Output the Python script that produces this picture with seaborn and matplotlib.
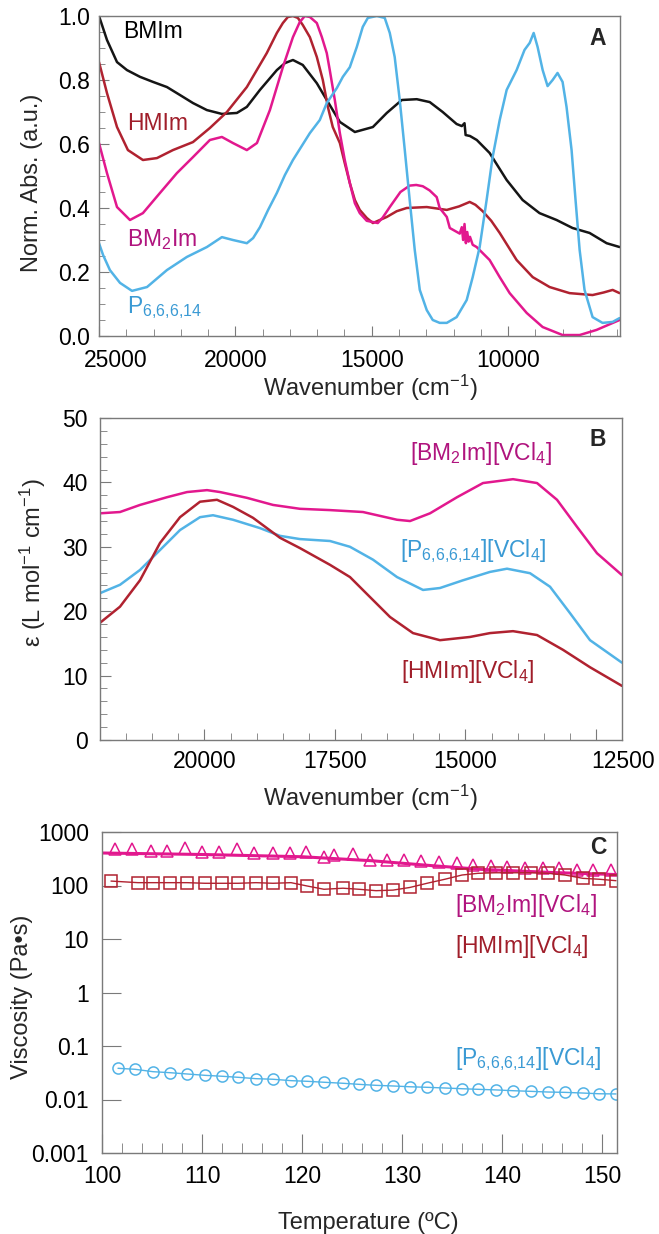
import numpy as np
import pandas as pd
import seaborn as sns
import matplotlib.pyplot as plt
from matplotlib.ticker import MultipleLocator, FixedLocator, FixedFormatter, NullLocator
from matplotlib.transforms import ScaledTranslation

sns.set_style("ticks")
plt.rcParams['font.family'] = ['Liberation Sans', 'DejaVu Sans']
plt.rcParams['mathtext.default'] = 'regular'

BLACK = '#151515'
RED = '#B02230'
PINK = '#E2188E'
BLUE = '#52B3E6'
RED_T = '#A01E2A'
PINK_T = '#B0147E'
BLUE_T = '#3A9AD4'
GRAY = '#7a7a7a'

# ---- panel A: normalised absorbance ----
bmim_wn = [25000, 24707, 24340, 23975, 23500, 23020, 22510, 22030, 21555, 21045,
           20495, 19945, 19580, 19100, 18480, 18180, 17890, 17530, 17015, 16650,
           16170, 15620, 14960, 14450, 13900, 13350, 12875, 12400, 11890, 11700,
           11600, 11560, 11400, 11150, 10680, 10055, 9470, 8850, 8225, 7640,
           7015, 6390, 5915]
bmim_abs = [1.0, 0.925, 0.856, 0.831, 0.81, 0.794, 0.778, 0.753, 0.728, 0.706,
            0.694, 0.697, 0.716, 0.769, 0.831, 0.853, 0.8625, 0.847, 0.79, 0.7375,
            0.669, 0.6375, 0.653, 0.697, 0.7375, 0.74, 0.731, 0.70, 0.6625, 0.656,
            0.665, 0.628, 0.625, 0.6125, 0.572, 0.4875, 0.425, 0.384, 0.3625, 0.3375,
            0.322, 0.29, 0.278]

hmim_wn = [25000, 24707, 24340, 23940, 23390, 22875, 22290, 21555, 20935, 20310,
           19580, 18850, 18480, 18260, 18075, 17890, 17710, 17530, 17270, 17015,
           16795, 16610, 16430, 16170, 15990, 15805, 15620, 15440, 15185, 14960,
           14705, 14450, 14085, 13720, 12985, 12250, 11800, 11520, 11410, 11200,
           10935, 10620, 10310, 9690, 9100, 8480, 7750, 6905, 6500, 6170,
           5915]
hmim_abs = [0.856, 0.759, 0.653, 0.581, 0.55, 0.556, 0.581, 0.606, 0.65, 0.70,
            0.778, 0.884, 0.947, 0.978, 0.997, 1.0, 0.994, 0.972, 0.934, 0.872,
            0.80, 0.716, 0.653, 0.603, 0.54, 0.478, 0.425, 0.394, 0.369, 0.353,
            0.3625, 0.372, 0.39, 0.40, 0.403, 0.394, 0.405, 0.415, 0.419, 0.41,
            0.39, 0.36, 0.322, 0.2375, 0.184, 0.153, 0.134, 0.128, 0.136, 0.144,
            0.134]

bm2im_wn = [25000, 24707, 24340, 23865, 23390, 22765, 22145, 21555, 20935, 20495,
            20090, 19580, 19210, 18735, 18260, 17890, 17640, 17455, 17270, 17015,
            16830, 16650, 16540, 16355, 16170, 15990, 15805, 15620, 15440, 15185,
            14780, 14600, 14340, 13950, 13610, 13370, 13130, 12880, 12620, 12510,
            12250, 12140, 11775, 11700, 11650, 11600, 11550, 11500, 11450, 11400,
            11300, 11155, 10680, 10310, 9945, 9320, 8735, 8005, 7380, 6760,
            5915]
bm2im_abs = [0.603, 0.509, 0.403, 0.3625, 0.384, 0.447, 0.509, 0.559, 0.6125, 0.622,
             0.603, 0.581, 0.603, 0.706, 0.84, 0.934, 0.981, 1.0, 0.997, 0.978,
             0.934, 0.884, 0.831, 0.7375, 0.634, 0.55, 0.478, 0.415, 0.384, 0.36,
             0.353, 0.37, 0.403, 0.45, 0.47, 0.472, 0.468, 0.455, 0.434, 0.40,
             0.372, 0.3375, 0.32, 0.34, 0.30, 0.35, 0.29, 0.325, 0.295, 0.31,
             0.285, 0.278, 0.2375, 0.184, 0.134, 0.072, 0.028, 0.003, 0.003, 0.019,
             0.05]

p_wn = [25000, 24850, 24600, 24230, 23790, 23240, 22510, 21780, 21045, 20495,
        20090, 19580, 19350, 19100, 18800, 18480, 18185, 17890, 17270, 16905,
        16650, 16280, 16060, 15805, 15550, 15330, 15145, 14815, 14525, 14340,
        14160, 13975, 13790, 13610, 13425, 13240, 12985, 12765, 12510, 12250,
        11890, 11520, 11300, 11045, 10790, 10570, 10310, 10055, 9690, 9400,
        9210, 9065, 8920, 8735, 8555, 8370, 8190, 8005, 7860, 7675,
        7530, 7380, 7200, 6905, 6540, 6170, 5915]
p_abs = [0.29, 0.253, 0.206, 0.166, 0.141, 0.153, 0.206, 0.247, 0.278, 0.309,
         0.30, 0.29, 0.306, 0.34, 0.394, 0.447, 0.503, 0.55, 0.634, 0.675,
         0.728, 0.775, 0.81, 0.84, 0.903, 0.966, 0.994, 1.0, 0.994, 0.947,
         0.872, 0.7375, 0.581, 0.425, 0.269, 0.144, 0.081, 0.05, 0.041, 0.041,
         0.059, 0.1125, 0.184, 0.278, 0.425, 0.559, 0.675, 0.769, 0.831, 0.894,
         0.916, 0.947, 0.903, 0.831, 0.781, 0.80, 0.822, 0.794, 0.716, 0.581,
         0.425, 0.269, 0.144, 0.059, 0.041, 0.044, 0.056]

# ---- panel B: molar absorptivity ----
b_bm2im_wn = [22000, 21617, 21234, 20716, 20333, 19950, 19700, 19184, 18685, 18170, 17594, 16962,
              16310, 16061, 15678, 15160, 14663, 14088, 13628, 13245, 12862, 12479, 12000]
b_bm2im_eps = [35.2, 35.4, 36.5, 37.7, 38.5, 38.8, 38.5, 37.6, 36.5, 35.9, 35.7, 35.4,
               34.2, 34.0, 35.2, 37.7, 39.9, 40.5, 39.9, 37.3, 33.1, 29.0, 25.6]

b_p_wn = [22000, 21617, 21234, 20850, 20467, 20084, 19835, 19452, 18935, 18552, 18170, 17594,
          17211, 16770, 16310, 15812, 15487, 15046, 14529, 14203, 13762, 13379, 12996, 12613, 12000]
b_p_eps = [22.8, 24.1, 26.4, 29.5, 32.6, 34.6, 34.9, 34.2, 32.9, 31.7, 31.2, 30.9,
           30.0, 28.0, 25.3, 23.3, 23.6, 24.8, 26.1, 26.6, 25.9, 23.8, 19.7, 15.5, 12.0]

b_hmim_wn = [22000, 21617, 21234, 20850, 20467, 20084, 19759, 19452, 19069, 18552, 18170, 17594,
             17211, 16828, 16444, 16004, 15487, 14912, 14529, 14088, 13628, 13130, 12613, 12000]
b_hmim_eps = [18.2, 20.7, 24.8, 30.6, 34.6, 37.0, 37.3, 36.2, 34.5, 31.4, 29.8, 27.2,
              25.3, 22.2, 19.1, 16.6, 15.5, 16.0, 16.6, 16.9, 16.3, 14.0, 11.3, 8.4]

# ---- panel C: viscosity ----
circ_T = [101.6, 103.3, 105.1, 106.8, 108.5, 110.3, 112.0, 113.6, 115.4, 117.1, 118.9, 120.5,
          122.2, 124.1, 125.7, 127.4, 129.1, 130.8, 132.5, 134.3, 136.0, 137.6, 139.4, 141.1,
          142.9, 144.6, 146.3, 148.1, 149.7, 151.4]
circ_visc = [0.0383, 0.0367, 0.0331, 0.0317, 0.0300, 0.0283, 0.0272, 0.0260, 0.0245, 0.0239,
             0.0225, 0.0219, 0.0210, 0.0201, 0.0192, 0.0184, 0.0179, 0.0173, 0.0169, 0.0164,
             0.0159, 0.0155, 0.0151, 0.0146, 0.0142, 0.0138, 0.0136, 0.0132, 0.0128, 0.0127]

sq_T = [100.9, 103.6, 105.1, 106.8, 108.5, 110.3, 112.0, 113.6, 115.4, 117.1, 118.9, 120.5,
        122.2, 124.1, 125.7, 127.4, 129.1, 130.8, 132.5, 134.3, 136.0, 137.6, 139.4, 141.1,
        142.9, 144.6, 146.3, 148.1, 149.7, 151.4]
sq_visc = [121, 113, 113, 113, 113, 110, 110, 110, 113, 110, 113, 98,
           85, 89, 85, 80, 82, 92, 110, 131, 157, 169, 173, 173,
           173, 169, 157, 136, 131, 123]

tri_T = [101.3, 103.0, 104.9, 106.5, 108.3, 110.0, 111.7, 113.5, 115.2, 117.1, 118.8, 120.4,
         122.2, 123.2, 125.1, 126.8, 128.5, 130.2, 131.9, 133.7, 135.5, 137.1, 138.9, 140.5,
         142.3, 144.1, 145.7, 147.5, 149.1, 150.9]
tri_visc = [475, 475, 447, 447, 496, 428, 428, 475, 400, 400, 410, 428,
            337, 372, 388, 300, 300, 300, 291, 279, 260, 242, 231, 224,
            209, 209, 209, 195, 195, 195]

fit_T = [100, 110, 120, 127, 133, 138, 145, 151.5]
fit_visc = [405, 380, 345, 290, 235, 200, 175, 160]

W, H = 659, 1234
fig = plt.figure(figsize=(W / 100, H / 100), dpi=100)
TICK_FS = 16.5
LAB_FS = 17


def style_axes(ax):
    for s in ax.spines.values():
        s.set_color(GRAY)
        s.set_linewidth(1.0)
    ax.tick_params(which='both', direction='in', color=GRAY, labelsize=TICK_FS, labelcolor='black')


def shift_xlabel(ax, idx, dx_px):
    lbl = ax.xaxis.get_major_ticks()[idx].label1
    lbl.set_transform(lbl.get_transform() + ScaledTranslation(dx_px / 100, 0, fig.dpi_scale_trans))


# panel A
axA = fig.add_axes([99 / W, 1 - 336 / H, 521 / W, 320 / H])
for wn, ab, c in [(bmim_wn, bmim_abs, BLACK), (hmim_wn, hmim_abs, RED),
                  (bm2im_wn, bm2im_abs, PINK), (p_wn, p_abs, BLUE)]:
    sns.lineplot(x=wn, y=ab, ax=axA, color=c, lw=1.8, estimator=None, sort=False)
axA.set_xlim(25000, 5900)
axA.set_ylim(0, 1.0)
axA.xaxis.set_major_locator(FixedLocator([25000, 20000, 15000, 10000]))
axA.xaxis.set_major_formatter(FixedFormatter(['25000', '20000', '15000', '10000']))
axA.xaxis.set_minor_locator(MultipleLocator(1000))
axA.yaxis.set_major_locator(MultipleLocator(0.2))
axA.yaxis.set_minor_locator(MultipleLocator(0.05))
style_axes(axA)
axA.tick_params(axis='x', which='major', length=7, pad=9.4)
axA.tick_params(axis='x', which='minor', length=5)
axA.tick_params(axis='y', which='major', length=7, pad=6.5)
axA.tick_params(axis='y', which='minor', length=4)
shift_xlabel(axA, 0, 17)
axA.set_xlabel('Wavenumber (cm$^{-1}$)', fontsize=LAB_FS, va='center')
axA.xaxis.set_label_coords(0.52, -0.1625)
axA.set_ylabel('Norm. Abs. (a.u.)', fontsize=LAB_FS, va='center')
axA.yaxis.set_label_coords(-0.128, 0.478)
axA.text(0.046, 0.931, 'BMIm', transform=axA.transAxes, fontsize=16.5, color='black', va='baseline')
axA.text(0.054, 0.644, 'HMIm', transform=axA.transAxes, fontsize=16.5, color=RED_T, va='baseline')
axA.text(0.054, 0.281, 'BM$_2$Im', transform=axA.transAxes, fontsize=16.5, color=PINK_T, va='baseline')
axA.text(0.054, 0.072, 'P$_{6{,}6{,}6{,}14}$', transform=axA.transAxes, fontsize=16.5, color=BLUE_T, va='baseline')
axA.text(0.958, 0.931, 'A', transform=axA.transAxes, fontsize=16.5, fontweight='bold', ha='center', va='center')

# panel B
axB = fig.add_axes([100 / W, 1 - 740 / H, 522 / W, 322 / H])
for wn, ep, c in [(b_bm2im_wn, b_bm2im_eps, PINK), (b_p_wn, b_p_eps, BLUE), (b_hmim_wn, b_hmim_eps, RED)]:
    sns.lineplot(x=wn, y=ep, ax=axB, color=c, lw=1.8, estimator=None, sort=False)
axB.set_xlim(22000, 12000)
axB.set_ylim(0, 50)
axB.xaxis.set_major_locator(FixedLocator([20000, 17500, 15000, 12500]))
axB.xaxis.set_major_formatter(FixedFormatter(['20000', '17500', '15000', '12500']))
axB.xaxis.set_minor_locator(MultipleLocator(500))
axB.yaxis.set_major_locator(MultipleLocator(10))
axB.yaxis.set_minor_locator(MultipleLocator(2))
style_axes(axB)
axB.tick_params(axis='x', which='major', length=8, pad=7.2)
axB.tick_params(axis='x', which='minor', length=5)
axB.tick_params(axis='y', which='major', length=8, pad=8.6)
axB.tick_params(axis='y', which='minor', length=5)
shift_xlabel(axB, 3, 27)
axB.set_xlabel('Wavenumber (cm$^{-1}$)', fontsize=LAB_FS, va='center')
axB.xaxis.set_label_coords(0.517, -0.18)
axB.set_ylabel('ε (L mol$^{-1}$ cm$^{-1}$)', fontsize=LAB_FS, va='center')
axB.yaxis.set_label_coords(-0.128, 0.55)
axB.text(0.594, 0.87, '[BM$_2$Im][VCl$_4$]', transform=axB.transAxes, fontsize=16.5, color=PINK_T, va='baseline')
axB.text(0.575, 0.568, '[P$_{6{,}6{,}6{,}14}$][VCl$_4$]', transform=axB.transAxes, fontsize=16.5, color=BLUE_T, va='baseline')
axB.text(0.576, 0.193, '[HMIm][VCl$_4$]', transform=axB.transAxes, fontsize=16.5, color=RED_T, va='baseline')
axB.text(0.954, 0.932, 'B', transform=axB.transAxes, fontsize=16.5, fontweight='bold', ha='center', va='center')

# panel C
axC = fig.add_axes([102 / W, 1 - 1153 / H, 515 / W, 321 / H])
sns.lineplot(x=fit_T, y=fit_visc, ax=axC, color=PINK, lw=2.2, estimator=None, sort=False)
sns.lineplot(x=tri_T, y=tri_visc, ax=axC, color=PINK, linestyle='', marker='^', markersize=9,
             markerfacecolor='none', markeredgecolor=PINK, markeredgewidth=1.1, estimator=None, sort=False)
sns.lineplot(x=sq_T, y=sq_visc, ax=axC, color=RED, lw=1.0, marker='s', markersize=8,
             markerfacecolor='none', markeredgecolor=RED, markeredgewidth=1.1, estimator=None, sort=False)
sns.lineplot(x=circ_T, y=circ_visc, ax=axC, color=BLUE, lw=1.0, marker='o', markersize=8,
             markerfacecolor='none', markeredgecolor=BLUE, markeredgewidth=1.1, estimator=None, sort=False)
axC.set_yscale('log')
axC.set_xlim(100, 151.5)
axC.set_ylim(0.001, 1000)
axC.xaxis.set_major_locator(MultipleLocator(10))
axC.xaxis.set_minor_locator(MultipleLocator(2))
axC.yaxis.set_major_locator(FixedLocator([0.001, 0.01, 0.1, 1, 10, 100, 1000]))
axC.yaxis.set_major_formatter(FixedFormatter(['0.001', '0.01', '0.1', '1', '10', '100', '1000']))
axC.yaxis.set_minor_locator(NullLocator())
style_axes(axC)
axC.tick_params(axis='x', which='major', length=14, pad=8.6)
axC.tick_params(axis='x', which='minor', length=7)
axC.tick_params(axis='y', which='major', length=14, pad=9.4)
axC.set_xlabel('Temperature (ºC)', fontsize=LAB_FS, va='center')
axC.xaxis.set_label_coords(0.517, -0.218)
axC.set_ylabel('Viscosity (Pa•s)', fontsize=LAB_FS, va='center')
axC.yaxis.set_label_coords(-0.155, 0.486)
axC.text(0.685, 0.751, '[BM$_2$Im][VCl$_4$]', transform=axC.transAxes, fontsize=16.5, color=PINK_T, va='baseline')
axC.text(0.685, 0.623, '[HMIm][VCl$_4$]', transform=axC.transAxes, fontsize=16.5, color=RED_T, va='baseline')
axC.text(0.685, 0.274, '[P$_{6{,}6{,}6{,}14}$][VCl$_4$]', transform=axC.transAxes, fontsize=16.5, color=BLUE_T, va='baseline')
axC.text(0.963, 0.953, 'C', transform=axC.transAxes, fontsize=16.5, fontweight='bold', ha='center', va='center')

fig.savefig('out.png', dpi=100)
